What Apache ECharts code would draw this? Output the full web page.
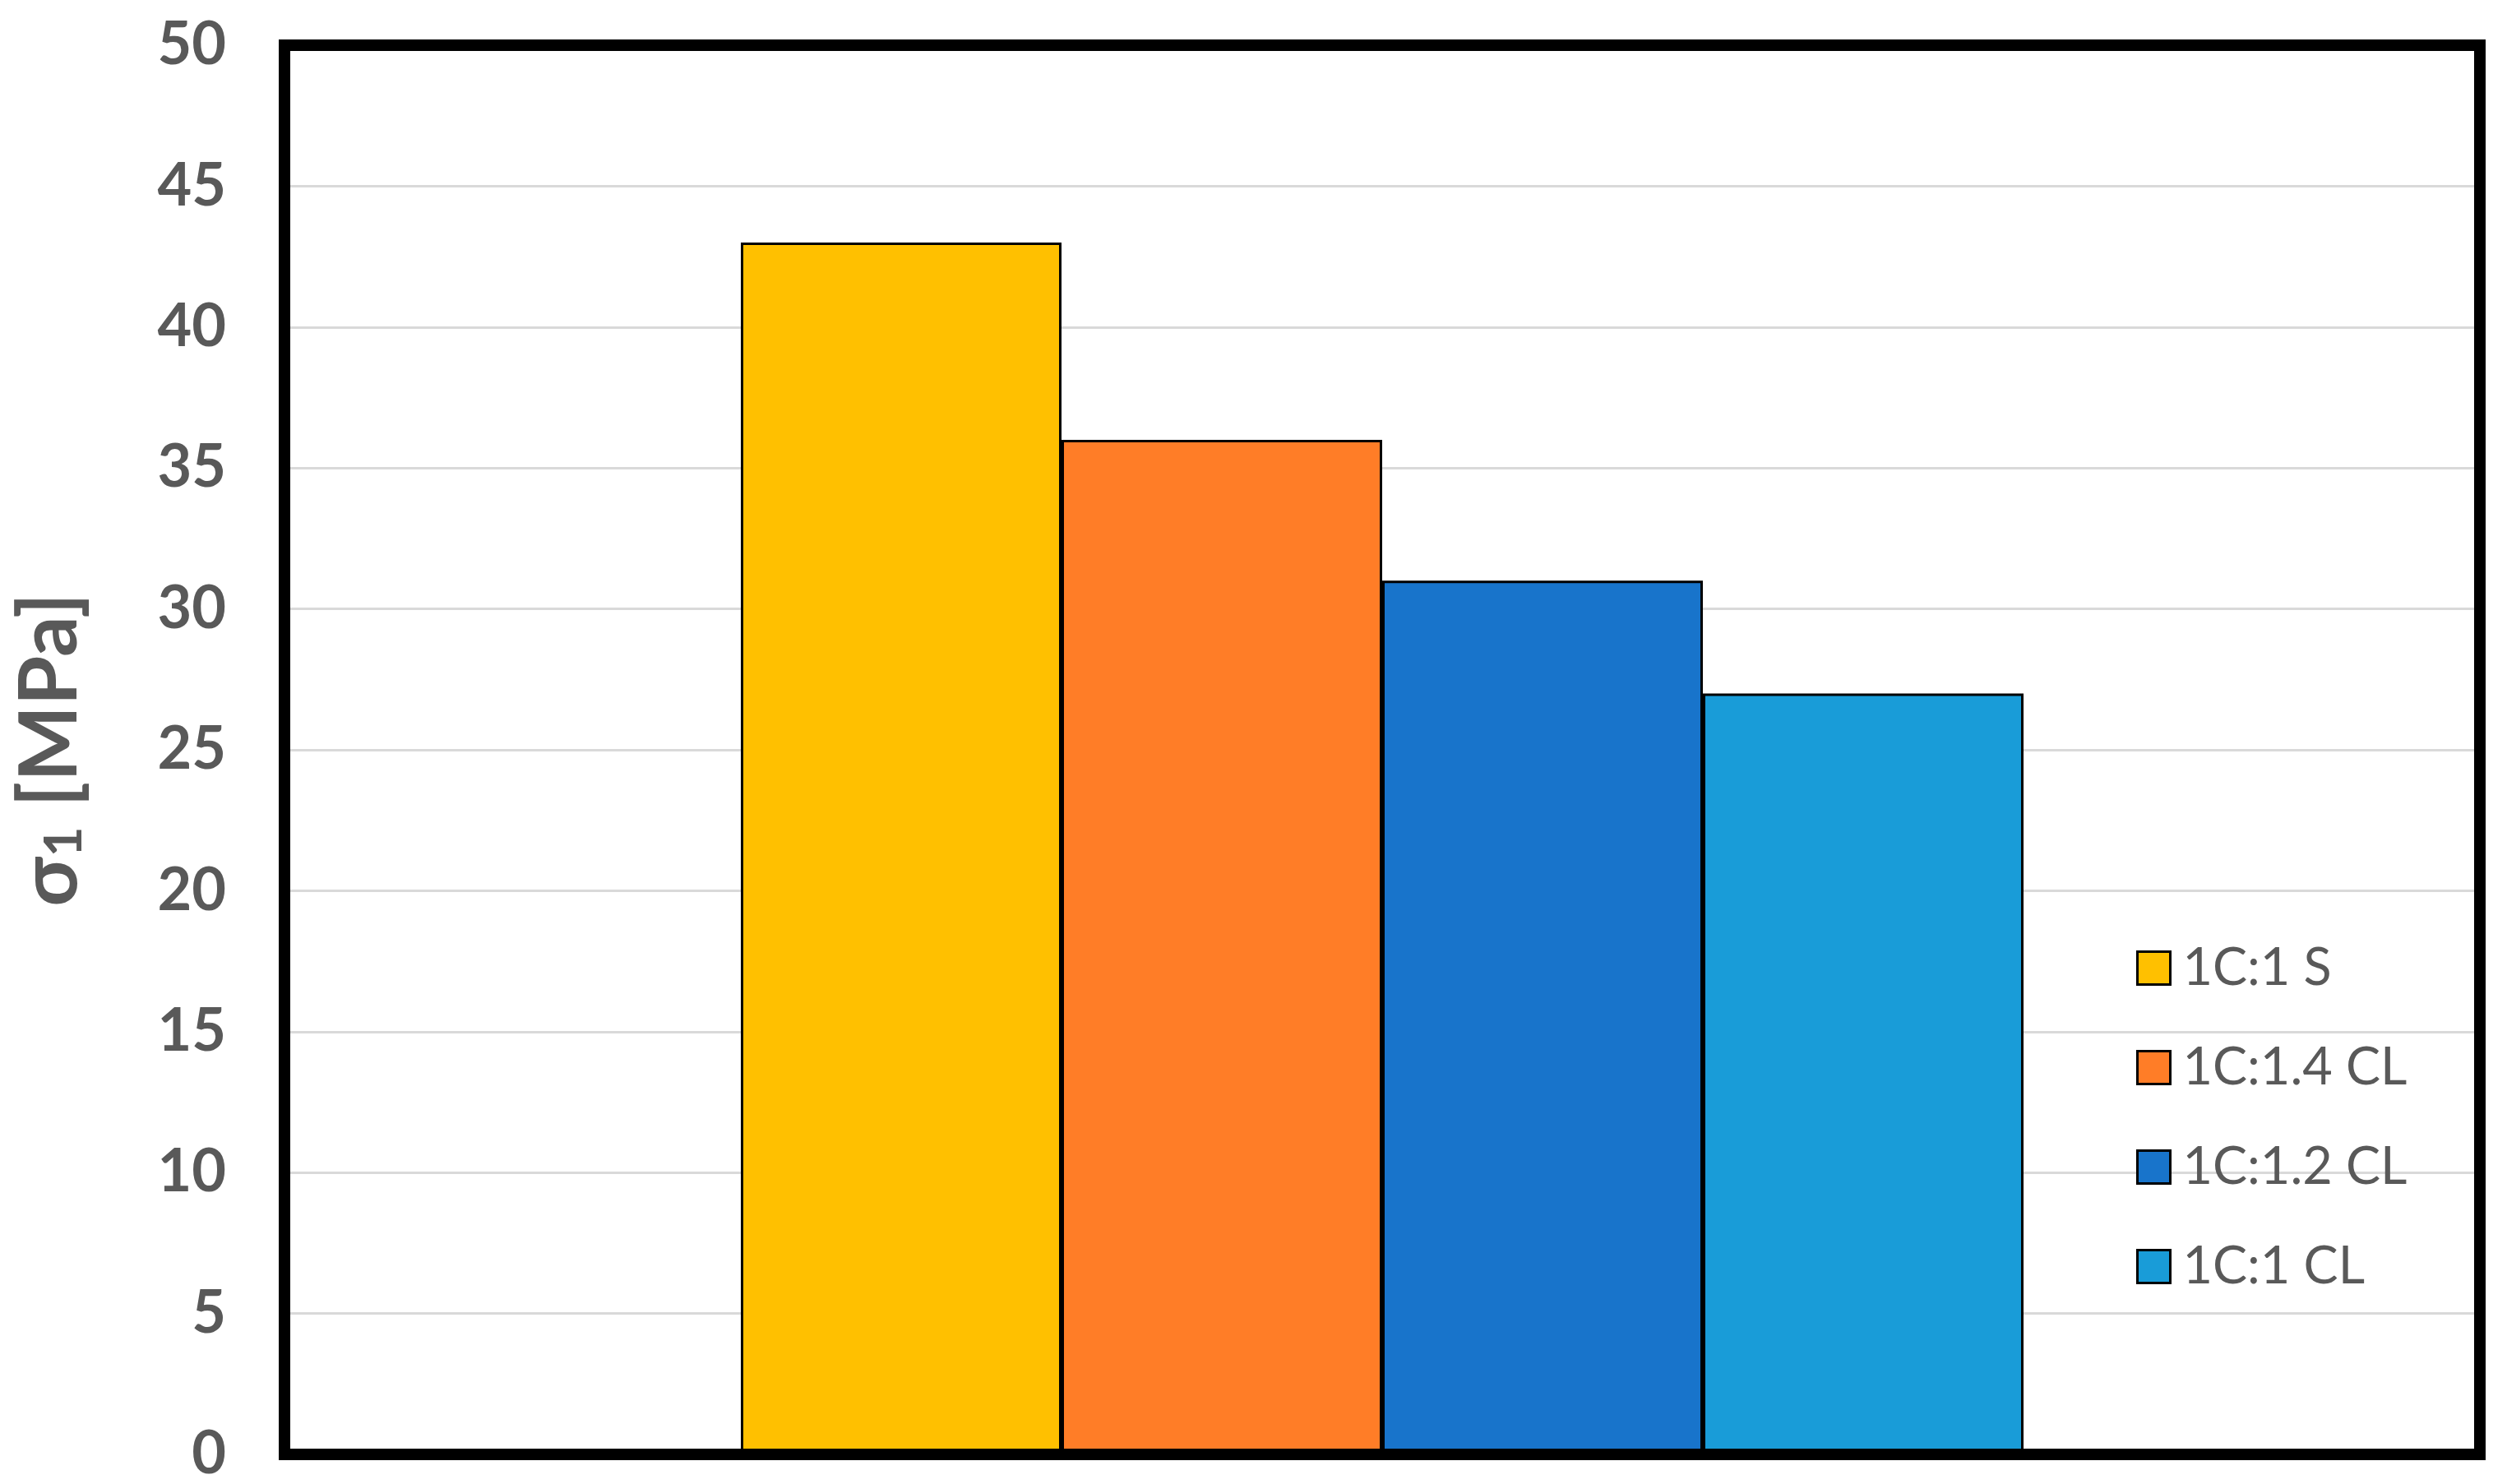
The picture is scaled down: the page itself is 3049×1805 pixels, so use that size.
<!DOCTYPE html>
<html>
<head>
<meta charset="utf-8">
<script src="https://cdn.jsdelivr.net/npm/echarts@6/dist/echarts.min.js"></script>
<style>
  html, body { margin: 0; padding: 0; background: #fff; }
  #myechart { width: 3049px; height: 1805px; }
</style>
</head>
<body>
<div id="myechart"></div>
<script>
  // data
  const categories = ['']
  const seriesNames = ['1C:1 S', '1C:1.4 CL', '1C:1.2 CL', '1C:1 CL']
  const seriesValues = [[43], [36], [31], [27]]
  const seriesColors = ['#ffc000', '#ff7d27', '#1874cb', '#199cd8']
  const yTicks = { min: 0, max: 50, interval: 5 }

  const fontFamily = 'Lato, "Noto Sans", sans-serif'
  const grey = '#595959'

  let chart = echarts.init(document.getElementById('myechart'))
  let option = {
    animation: false,
    backgroundColor: '#ffffff',
    grid: {
      left: 346,
      right: 33,
      top: 55,
      bottom: 34,
      show: true,
      borderColor: '#000000',
      borderWidth: 14,
      backgroundColor: 'transparent',
      z: 5
    },
    legend: {
      orient: 'vertical',
      left: 2593,
      top: 1141,
      itemWidth: 40,
      itemHeight: 40,
      itemGap: 58,
      icon: 'rect',
      data: seriesNames,
      itemStyle: {
        borderColor: '#000000',
        borderWidth: 3
      },
      textStyle: {
        color: grey,
        fontFamily: fontFamily,
        fontSize: 63,
        padding: [0, 0, 0, 10]
      }
    },
    xAxis: {
      type: 'category',
      data: categories,
      axisLine: { show: false },
      axisTick: { show: false },
      axisLabel: { show: false },
      splitLine: { show: false }
    },
    yAxis: {
      type: 'value',
      min: yTicks.min,
      max: yTicks.max,
      interval: yTicks.interval,
      axisLine: { show: false },
      axisTick: { show: false },
      axisLabel: {
        color: grey,
        fontFamily: fontFamily,
        fontWeight: 'bold',
        fontSize: 72,
        margin: 71
      },
      splitLine: {
        lineStyle: { color: '#d9d9d9', width: 3 }
      },
      name: '{a|σ}{b|1}{a| [MPa]}',
      nameLocation: 'middle',
      nameRotate: 90,
      nameGap: 236,
      nameTextStyle: {
        rich: {
          a: { color: grey, fontFamily: fontFamily, fontWeight: 'bold', fontSize: 98 },
          b: { color: grey, fontFamily: fontFamily, fontWeight: 'bold', fontSize: 64, verticalAlign: 'bottom', padding: [26, 0, 0, 0] }
        }
      }
    },
    series: seriesNames.map((name, i) => ({
      name: name,
      type: 'bar',
      data: seriesValues[i],
      barWidth: 390,
      barGap: '0%',
      itemStyle: {
        color: seriesColors[i],
        borderColor: '#000000',
        borderWidth: 3
      }
    }))
  }
  chart.setOption(option)
</script>
</body>
</html>
